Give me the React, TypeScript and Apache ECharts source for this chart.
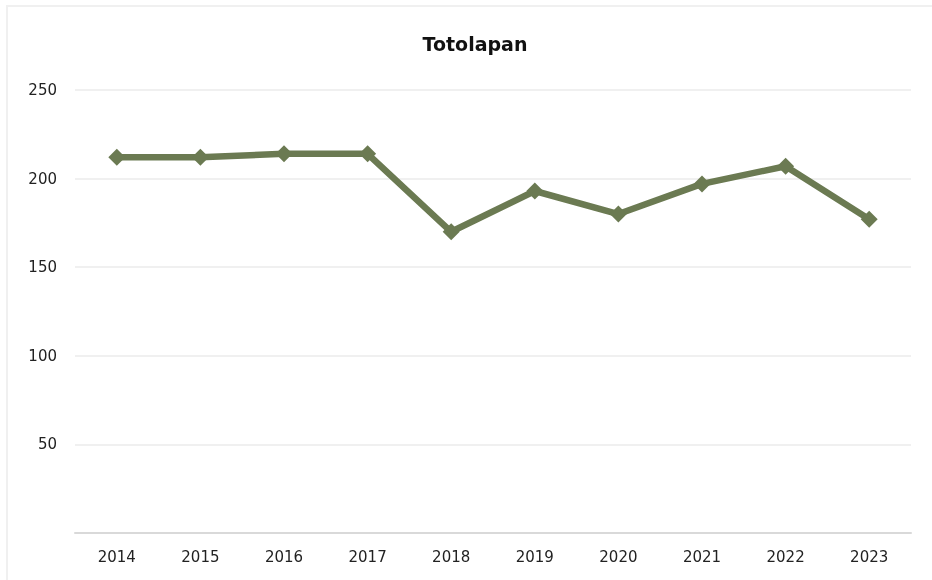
import React, { useEffect, useRef } from "react";
import * as echarts from "echarts";

const categories = ["2014", "2015", "2016", "2017", "2018", "2019", "2020", "2021", "2022", "2023"];
const values = [212, 212, 214, 214, 170, 193, 180, 197, 207, 177];
const titleText = "Totolapan";

export default function App() {
  const ref = useRef<HTMLDivElement>(null);
  useEffect(() => {
    if (!ref.current) return;
    const chart = echarts.init(ref.current, null, { renderer: "svg" });
    chart.setOption({
      animation: false,
      backgroundColor: "transparent",
      textStyle: { fontFamily: "DejaVu Sans, sans-serif" },
      title: {
        text: titleText,
        left: 470,
        top: 29,
        textAlign: "center",
        textStyle: { fontSize: 19, fontWeight: "bold", color: "#111", fontFamily: "DejaVu Sans, sans-serif" },
      },
      grid: { left: 75, right: 21, top: 90, bottom: 47 },
      xAxis: {
        type: "category",
        data: categories,
        boundaryGap: true,
        axisLine: { show: true, lineStyle: { color: "#d9d9d9", width: 2 } },
        axisTick: { show: false },
        axisLabel: { color: "#222", fontSize: 15, margin: 16 },
        splitLine: { show: false },
      },
      yAxis: {
        type: "value",
        min: 0,
        max: 250,
        interval: 50,
        axisLine: { show: false },
        axisTick: { show: false },
        axisLabel: {
          color: "#222",
          fontSize: 15,
          margin: 18,
          formatter: (v: number) => (v === 0 ? "" : String(v)),
        },
        splitLine: { lineStyle: { color: "#f0f0f0", width: 2 } },
      },
      series: [
        {
          type: "line",
          data: values,
          symbol: "diamond",
          symbolSize: 17,
          lineStyle: { color: "#6b7a52", width: 6.5 },
          itemStyle: { color: "#6b7a52" },
        },
      ],
    });
    return () => chart.dispose();
  }, []);
  return (
    <>
      <div
        style={{
          position: "fixed",
          left: 6,
          top: 5,
          width: 1000,
          height: 700,
          border: "2px solid #f0f0f0",
          boxSizing: "border-box",
        }}
      />
      <div ref={ref} style={{ position: "fixed", left: 0, top: 0, width: 932, height: 580 }} />
    </>
  );
}
